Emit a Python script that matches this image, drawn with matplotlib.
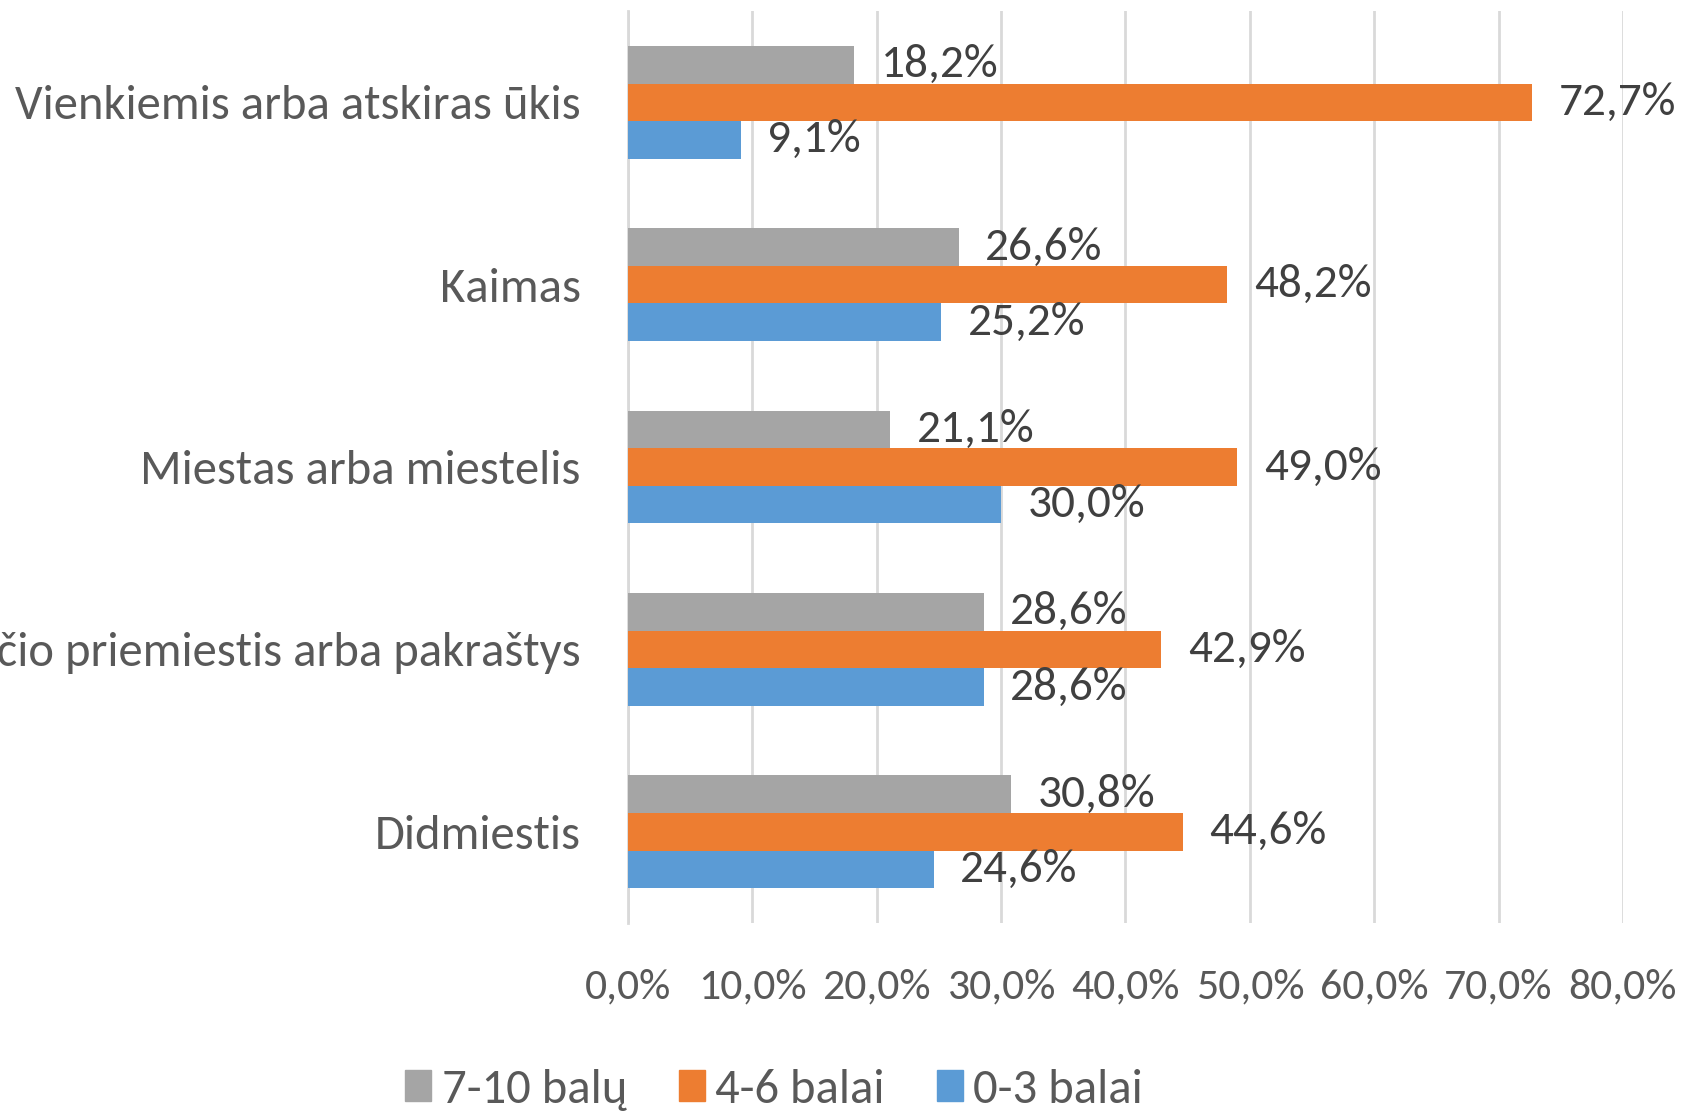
import matplotlib
matplotlib.use("Agg")
import matplotlib.pyplot as plt
from matplotlib import font_manager
from matplotlib.patches import Patch
import numpy as np

categories = ["Vienkiemis arba atskiras ūkis", "Kaimas", "Miestas arba miestelis",
              "Didmiesčio priemiestis arba pakraštys", "Didmiestis"]
series_names = ["7-10 balų", "4-6 balai", "0-3 balai"]
vals_7_10 = [18.2, 26.6, 21.1, 28.6, 30.8]
vals_4_6 = [72.7, 48.2, 49.0, 42.9, 44.6]
vals_0_3 = [9.1, 25.2, 30.0, 28.6, 24.6]
xticks = [0, 10, 20, 30, 40, 50, 60, 70, 80]

colors = ["#A5A5A5", "#ED7D31", "#5B9BD5"]

avail = {f.name for f in font_manager.fontManager.ttflist}
fam = "DejaVu Sans"
for cand in ["Carlito", "Liberation Sans Narrow", "Roboto Condensed", "Open Sans Condensed", "Arimo"]:
    if cand in avail:
        fam = cand
        break
plt.rcParams['font.family'] = [fam, 'DejaVu Sans']

fig = plt.figure(figsize=(16.83, 11.12), dpi=100)
ax = fig.add_axes([0.3731, 0.170, 0.5912, 0.820])

y = np.arange(len(categories))
h = 0.206
series = [vals_7_10, vals_4_6, vals_0_3]
offsets = [-h, 0, h]
for vals, off, c, name in zip(series, offsets, colors, series_names):
    bars = ax.barh(y + off, vals, height=h, color=c, label=name, zorder=3)
    for b, v in zip(bars, vals):
        ax.annotate(f"{v:.1f}%".replace(".", ","),
                    (b.get_width(), b.get_y() + b.get_height() / 2),
                    xytext=(19, 0), textcoords="offset points",
                    va="center", ha="left", fontsize=34, color="#404040")

ax.set_xlim(0, 80)
ax.set_ylim(len(categories) - 0.5, -0.5)
ax.set_xticks(xticks)
ax.set_xticklabels([f"{t:.1f}%".replace(".", ",") for t in xticks])
ax.set_yticks(y)
ax.set_yticklabels(categories)
ax.tick_params(axis="x", length=0, pad=33, labelsize=31.5, labelcolor="#595959")
ax.tick_params(axis="y", length=0, pad=34, labelsize=35, labelcolor="#595959")
ax.grid(axis="x", color="#D9D9D9", linewidth=2, zorder=0)
for s in ["top", "right", "bottom"]:
    ax.spines[s].set_visible(False)
ax.spines["left"].set_color("#D9D9D9")
ax.spines["left"].set_linewidth(2)

handles = [Patch(color=c) for c in colors]
fig.legend(handles, series_names, loc="center", bbox_to_anchor=(0.46, 0.020),
           ncol=3, frameon=False, fontsize=35, labelcolor="#595959",
           handlelength=0.53, handleheight=0.6, handletextpad=0.22,
           columnspacing=1.07, borderpad=0.0)

fig.savefig("out.png", dpi=100)
